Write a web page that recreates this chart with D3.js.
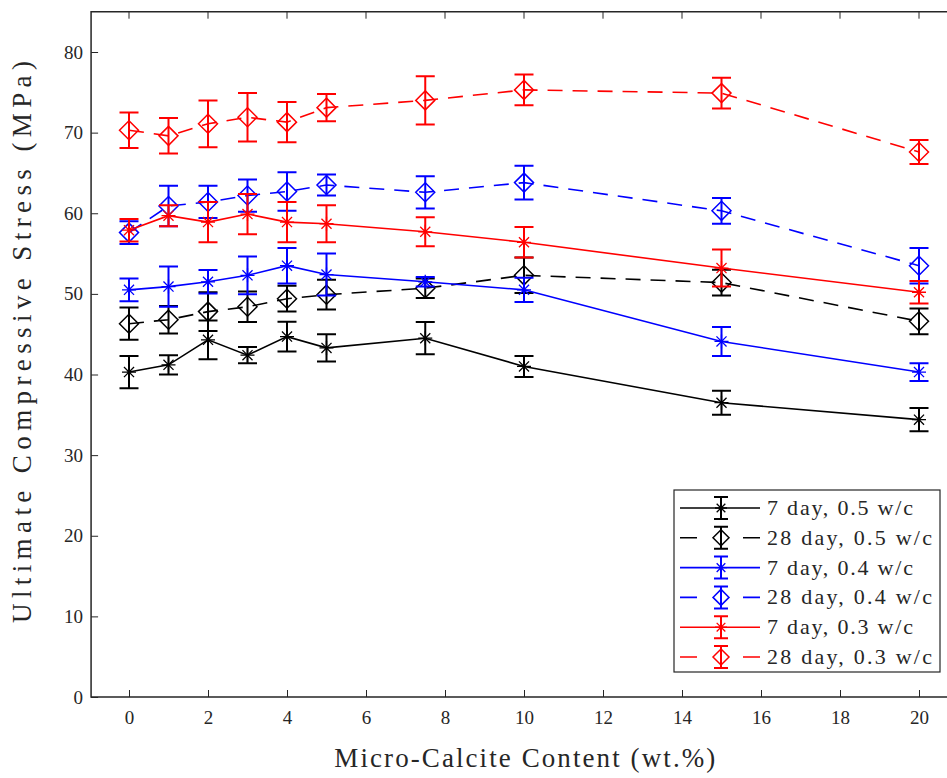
<!DOCTYPE html>
<html>
<head>
<meta charset="utf-8">
<script src="https://cdn.jsdelivr.net/npm/d3@7"></script>
<style>
  body { margin: 0; background: white; }
  svg { display: block; font-family: "Liberation Serif", "DejaVu Serif", serif; }
</style>
</head>
<body>
<script>
// micro-calcite content (wt.%)
const content = [0, 1, 2, 3, 4, 5, 7.5, 10, 15, 20];

const seriesNames = ['7 day, 0.5 w/c', '28 day, 0.5 w/c', '7 day, 0.4 w/c',
                     '28 day, 0.4 w/c', '7 day, 0.3 w/c', '28 day, 0.3 w/c'];

// mean compressive stress (MPa)
const day7_05  = [40.3, 41.2, 44.3, 42.4, 44.7, 43.3, 44.5, 41.0, 36.5, 34.4];
const day28_05 = [46.3, 46.8, 47.8, 48.4, 49.4, 49.9, 50.7, 52.3, 51.4, 46.6];
const day7_04  = [50.5, 50.9, 51.5, 52.3, 53.5, 52.4, 51.5, 50.5, 44.1, 40.3];
const day28_04 = [57.6, 60.9, 61.4, 62.2, 62.7, 63.5, 62.6, 63.8, 60.3, 53.5];
const day7_03  = [57.9, 59.7, 58.9, 59.9, 58.9, 58.7, 57.7, 56.4, 53.2, 50.2];
const day28_03 = [70.3, 69.6, 71.1, 71.9, 71.3, 73.1, 74.0, 75.3, 74.9, 67.6];

// standard deviations (MPa)
const err7_05  = [2.0, 1.2, 2.4, 1.0, 1.85, 1.7, 2.0, 1.3, 1.5, 1.45];
const err28_05 = [2.0, 1.7, 2.4, 1.9, 1.6, 1.85, 1.2, 2.2, 1.6, 1.6];
const err7_04  = [1.4, 2.5, 1.45, 2.35, 2.2, 2.6, 0.6, 1.5, 1.8, 1.1];
const err28_04 = [1.4, 2.5, 2.0, 2.0, 2.4, 1.3, 2.0, 2.1, 1.6, 2.2];
const err7_03  = [1.4, 1.3, 2.5, 2.5, 2.5, 2.3, 1.8, 1.9, 2.3, 1.4];
const err28_03 = [2.2, 2.2, 2.9, 3.0, 2.5, 1.7, 3.0, 1.9, 1.9, 1.5];

const xTicks = [0, 2, 4, 6, 8, 10, 12, 14, 16, 18, 20];
const yTicks = [0, 10, 20, 30, 40, 50, 60, 70, 80];

const series = [
    { name: seriesNames[0], vals: day7_05,  errs: err7_05,  color: '#000000', dashed: false, marker: 'star' },
    { name: seriesNames[1], vals: day28_05, errs: err28_05, color: '#000000', dashed: true,  marker: 'diamond' },
    { name: seriesNames[2], vals: day7_04,  errs: err7_04,  color: '#0000ff', dashed: false, marker: 'star' },
    { name: seriesNames[3], vals: day28_04, errs: err28_04, color: '#0000ff', dashed: true,  marker: 'diamond' },
    { name: seriesNames[4], vals: day7_03,  errs: err7_03,  color: '#ff0000', dashed: false, marker: 'star' },
    { name: seriesNames[5], vals: day28_03, errs: err28_03, color: '#ff0000', dashed: true,  marker: 'diamond' }
];

const width = 947;
const height = 778;
const axisColor = '#262626';
const dash = '15,10';
const capHalf = 9.5;

const xScale = d3.scaleLinear().domain([0, 20]).range([129, 919]);
const yScale = d3.scaleLinear().domain([0, 80]).range([697, 52]);

const svg = d3.select('body')
    .append('svg')
    .attr('width', width)
    .attr('height', height);

// plot box (right edge runs past the picture)
const boxLeft = xScale(-0.96), boxRight = xScale(21), boxTop = yScale(85), boxBottom = yScale(0);
svg.append('path')
    .attr('d', `M${boxRight},${boxTop}H${boxLeft}V${boxBottom}H${boxRight}`)
    .attr('fill', 'none')
    .attr('stroke', axisColor)
    .attr('stroke-width', 1.5);

const xAxis = svg.append('g')
    .attr('transform', `translate(0, ${boxBottom})`)
    .call(d3.axisBottom(xScale).tickValues(xTicks).tickSize(-7).tickPadding(14));
const yAxis = svg.append('g')
    .attr('transform', `translate(${boxLeft}, 0)`)
    .call(d3.axisLeft(yScale).tickValues(yTicks).tickSize(-7).tickPadding(8));

// top ticks mirror the bottom ones
svg.append('g')
    .selectAll('line')
    .data(xTicks)
    .enter()
    .append('line')
    .attr('x1', d => xScale(d)).attr('x2', d => xScale(d))
    .attr('y1', boxTop).attr('y2', boxTop + 7)
    .attr('stroke', axisColor)
    .attr('stroke-width', 1);

[xAxis, yAxis].forEach(function (ax) {
    ax.select('.domain').remove();
    ax.selectAll('.tick line').attr('stroke', axisColor).attr('stroke-width', 1);
    ax.selectAll('.tick text')
        .attr('fill', axisColor)
        .style('font-size', '19px')
        .style('font-family', '"Liberation Serif", serif');
});

// axis labels
svg.append('text')
    .attr('x', (boxLeft + boxRight) / 2)
    .attr('y', 767)
    .attr('text-anchor', 'middle')
    .attr('fill', axisColor)
    .attr('textLength', 381)
    .style('font-size', '27px')
    .text('Micro-Calcite Content (wt.%)');

svg.append('text')
    .attr('transform', 'translate(31, 342) rotate(-90)')
    .attr('text-anchor', 'middle')
    .attr('fill', axisColor)
    .attr('textLength', 562)
    .style('font-size', '27px')
    .text('Ultimate Compressive Stress (MPa)');

function drawMarker(g, type, cx, cy, color, size) {
    if (type === 'diamond') {
        g.append('path')
            .attr('d', `M${cx},${cy - size}L${cx + size},${cy}L${cx},${cy + size}L${cx - size},${cy}Z`)
            .attr('fill', 'none')
            .attr('stroke', color)
            .attr('stroke-width', 1.5);
    } else {
        const s = size, d = size * 0.72;
        g.append('path')
            .attr('d', `M${cx - s},${cy}H${cx + s}M${cx},${cy - s}V${cy + s}` +
                       `M${cx - d},${cy - d}L${cx + d},${cy + d}M${cx - d},${cy + d}L${cx + d},${cy - d}`)
            .attr('stroke', color)
            .attr('stroke-width', 1.3);
    }
}

const line = d3.line()
    .x(d => xScale(d.x))
    .y(d => yScale(d.y));

series.forEach(function (s) {
    const pts = content.map((c, i) => ({ x: c, y: s.vals[i], e: s.errs[i] }));
    const g = svg.append('g');

    g.append('path')
        .datum(pts)
        .attr('d', line)
        .attr('fill', 'none')
        .attr('stroke', s.color)
        .attr('stroke-width', 1.6)
        .attr('stroke-dasharray', s.dashed ? dash : null);

    // error bars
    g.selectAll('path.err')
        .data(pts)
        .enter()
        .append('path')
        .attr('class', 'err')
        .attr('d', function (d) {
            const cx = xScale(d.x), y1 = yScale(d.y + d.e), y2 = yScale(d.y - d.e);
            return `M${cx},${y1}V${y2}M${cx - capHalf},${y1}H${cx + capHalf}M${cx - capHalf},${y2}H${cx + capHalf}`;
        })
        .attr('fill', 'none')
        .attr('stroke', s.color)
        .attr('stroke-width', 2);

    pts.forEach(function (d) {
        drawMarker(g, s.marker, xScale(d.x), yScale(d.y), s.color, s.marker === 'diamond' ? 9.5 : 7);
    });
});

// legend
const legX = 674, legY = 490, legW = 266, legH = 182;
const legend = svg.append('g');
legend.append('rect')
    .attr('x', legX).attr('y', legY)
    .attr('width', legW).attr('height', legH)
    .attr('fill', 'white')
    .attr('stroke', axisColor)
    .attr('stroke-width', 1.2);

series.forEach(function (s, i) {
    const cy = 508 + i * 29.8;
    const g = legend.append('g');
    if (s.dashed) {
        g.append('path')
            .attr('d', `M680,${cy}H697M743,${cy}H760`)
            .attr('stroke', s.color).attr('stroke-width', 1.6);
    } else {
        g.append('path')
            .attr('d', `M680,${cy}H760`)
            .attr('stroke', s.color).attr('stroke-width', 1.6);
    }
    g.append('path')
        .attr('d', `M721,${cy - 11}V${cy + 11}M714,${cy - 11}H728M714,${cy + 11}H728`)
        .attr('fill', 'none')
        .attr('stroke', s.color).attr('stroke-width', 2);
    drawMarker(g, s.marker, 721, cy, s.color, s.marker === 'diamond' ? 8 : 6);
    g.append('text')
        .attr('x', 767)
        .attr('y', cy + 7)
        .attr('fill', axisColor)
        .attr('textLength', s.name.startsWith('28') ? 165 : 146)
        .style('font-size', '22px')
        .text(s.name);
});
</script>
</body>
</html>
